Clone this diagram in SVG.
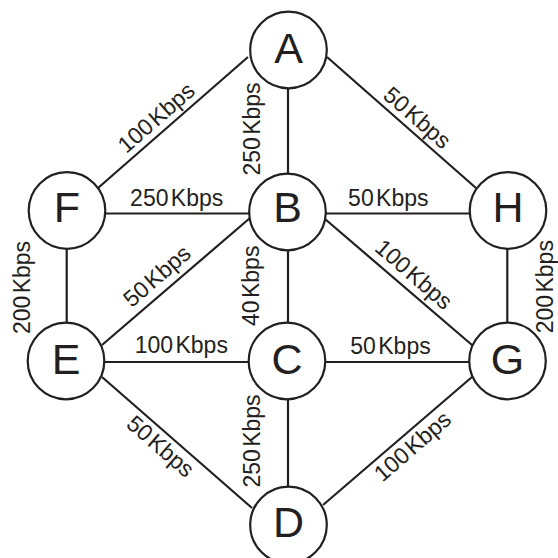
<svg xmlns="http://www.w3.org/2000/svg" width="558" height="558" viewBox="0 0 558 558">
<style>
.n circle{fill:#fff;stroke:#231f20;stroke-width:2.2}
.n text{font-family:"Liberation Sans",Arial,sans-serif;font-size:43px;fill:#231f20;text-anchor:middle}
#edges line{stroke:#231f20;stroke-width:2.2}
.l{font-family:"Liberation Sans",Arial,sans-serif;font-size:23px;fill:#231f20;text-anchor:middle;word-spacing:-4px}
</style>
<rect width="558" height="558" fill="#fff"/>
<g id="edges">
<line x1="98" y1="188" x2="248" y2="57"/>
<line x1="327" y1="57" x2="476" y2="188"/>
<line x1="288" y1="88" x2="288" y2="174"/>
<line x1="105" y1="213.5" x2="250" y2="213.5"/>
<line x1="326" y1="213.5" x2="470" y2="213.5"/>
<line x1="66.7" y1="249" x2="66.7" y2="323"/>
<line x1="507.3" y1="249" x2="507.3" y2="323"/>
<line x1="102" y1="345" x2="250" y2="218"/>
<line x1="325" y1="219" x2="472" y2="345"/>
<line x1="288" y1="250" x2="288" y2="323"/>
<line x1="104" y1="362" x2="250" y2="362"/>
<line x1="326" y1="362" x2="469" y2="362"/>
<line x1="102" y1="377" x2="252" y2="508"/>
<line x1="472" y1="377" x2="323" y2="505"/>
<line x1="288" y1="399" x2="288" y2="487"/>
<text class="l" transform="translate(156.7,118.3) rotate(-41)" y="7">100 Kbps</text>
<text class="l" transform="translate(252.5,129) rotate(-90)" y="7">250 Kbps</text>
<text class="l" transform="translate(416.7,118.3) rotate(41)" y="7">50 Kbps</text>
<text class="l" x="176.7" y="205.5">250 Kbps</text>
<text class="l" x="388.3" y="205.5">50 Kbps</text>
<text class="l" transform="translate(157.5,276.7) rotate(-41)" y="7">50 Kbps</text>
<text class="l" transform="translate(251.7,285.8) rotate(-90)" y="7">40 Kbps</text>
<text class="l" transform="translate(413.3,275) rotate(41)" y="7">100 Kbps</text>
<text class="l" x="181.3" y="353.3">100 Kbps</text>
<text class="l" x="390.5" y="354.3">50 Kbps</text>
<text class="l" transform="translate(22.5,287.5) rotate(-90)" y="7">200 Kbps</text>
<text class="l" transform="translate(546,286.7) rotate(-90)" y="7">200 Kbps</text>
<text class="l" transform="translate(160,447) rotate(41)" y="7">50 Kbps</text>
<text class="l" transform="translate(252.5,441) rotate(-90)" y="7">250 Kbps</text>
<text class="l" transform="translate(413,447) rotate(-41)" y="7">100 Kbps</text>
</g>
<g id="A" class="n"><circle cx="288.5" cy="50" r="38.3"/><text x="288.5" y="63.3">A</text></g>
<g id="B" class="n"><circle cx="287.5" cy="212" r="38.3"/><text x="287.5" y="221.7">B</text></g>
<g id="C" class="n"><circle cx="287" cy="361" r="38.3"/><text x="287" y="374">C</text></g>
<g id="D" class="n"><circle cx="288.5" cy="525" r="38.3"/><text x="288.5" y="537">D</text></g>
<g id="E" class="n"><circle cx="66" cy="361" r="38.3"/><text x="66" y="374">E</text></g>
<g id="F" class="n"><circle cx="67" cy="210.5" r="38.3"/><text x="67" y="221.7">F</text></g>
<g id="G" class="n"><circle cx="507.5" cy="361" r="38.3"/><text x="507.5" y="374">G</text></g>
<g id="H" class="n"><circle cx="508" cy="210.5" r="38.3"/><text x="508" y="221.7">H</text></g>
</svg>
